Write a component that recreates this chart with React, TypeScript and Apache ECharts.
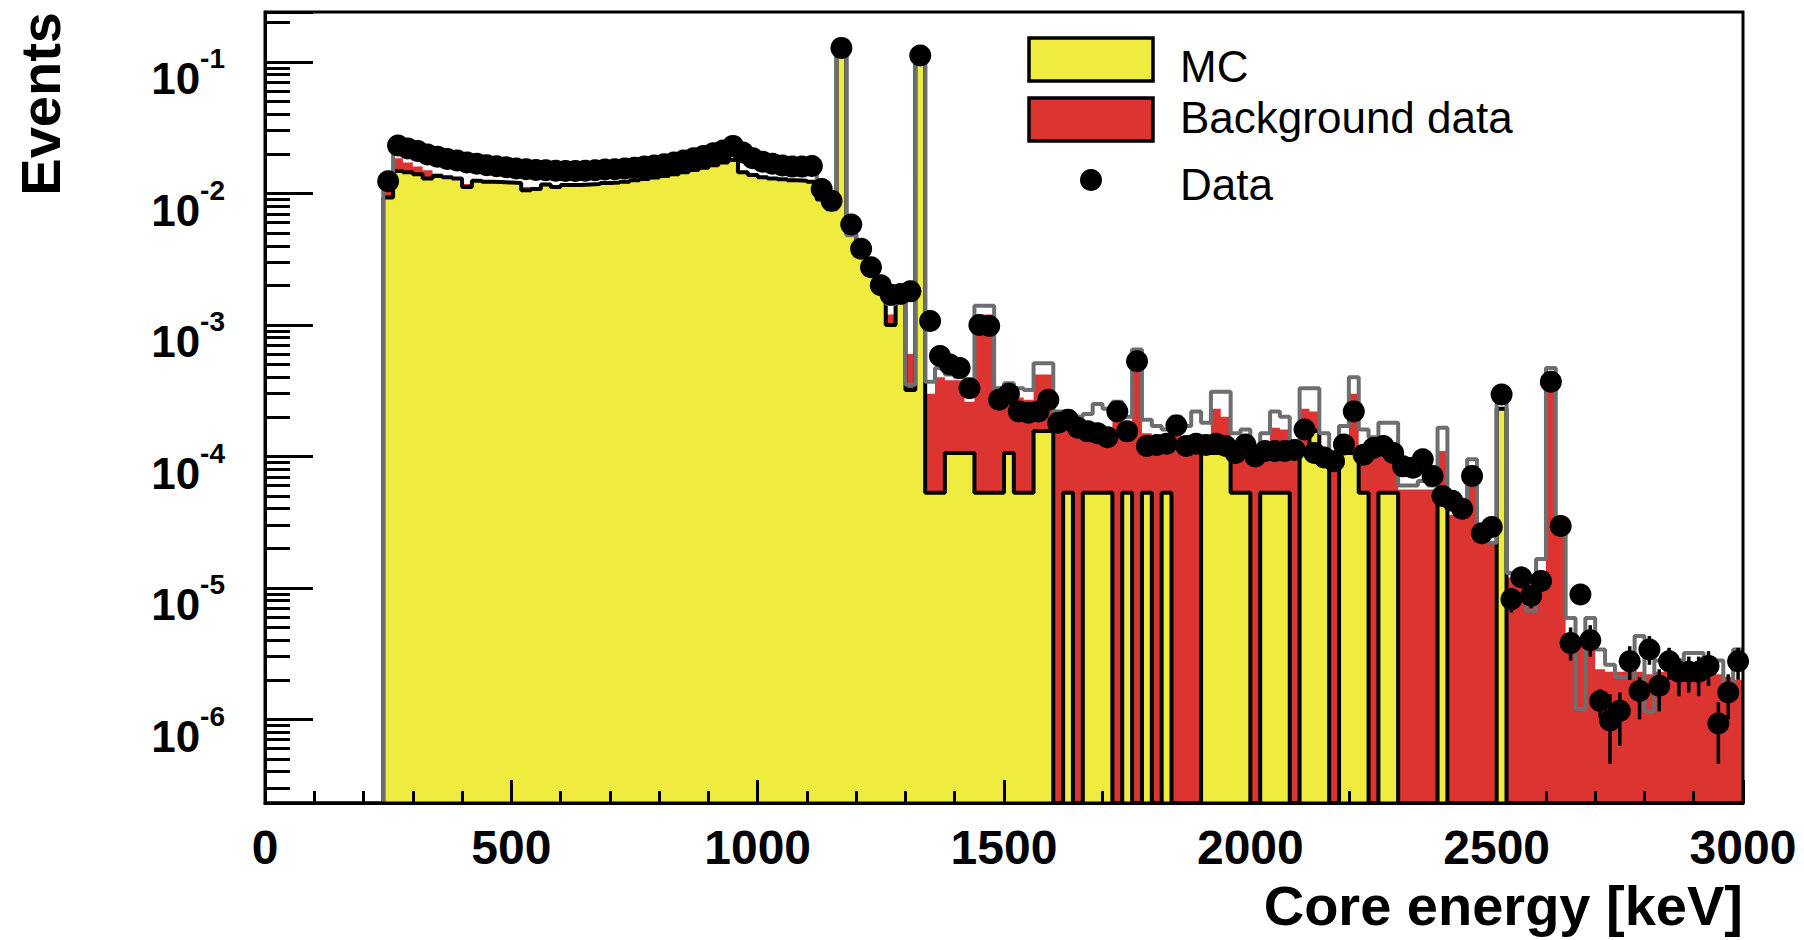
import React, { useEffect, useRef } from 'react';
import * as echarts from 'echarts';

// Histogram binning (keV)
const BIN_START = 240;
const BIN_WIDTH = 20;
const X_MIN = 0;
const X_MAX = 3000;
const X_INTERVAL = 500;
const Y_MIN = 2.31e-7;
const Y_MAX = 0.24;

// MC simulation (yellow), per 20 keV bin from 240 keV
const MC = [
  9.3e-3, 1.48e-2, 1.45e-2, 1.40e-2, 1.30e-2, 1.36e-2, 1.33e-2, 1.30e-2, 1.12e-2, 1.25e-2,
  1.23e-2, 1.22e-2, 1.21e-2, 1.20e-2, 1.06e-2, 1.08e-2, 1.17e-2, 1.12e-2, 1.16e-2, 1.16e-2,
  1.17e-2, 1.18e-2, 1.20e-2, 1.21e-2, 1.23e-2, 1.26e-2, 1.29e-2, 1.32e-2, 1.36e-2, 1.40e-2,
  1.45e-2, 1.51e-2, 1.57e-2, 1.64e-2, 1.72e-2, 1.80e-2, 1.45e-2, 1.38e-2, 1.33e-2, 1.30e-2,
  1.28e-2, 1.26e-2, 1.25e-2, 1.23e-2, 9.0e-3, 7.6e-3, 0.12, 4.9e-3, 3.4e-3, 2.4e-3,
  1.75e-3, 1.0e-3, 1.5e-3, 3.2e-4, 0.105, 5.3e-5, 5.3e-5, 1.06e-4, 1.06e-4, 1.06e-4,
  5.3e-5, 5.3e-5, 5.3e-5, 1.06e-4, 5.3e-5, 5.3e-5, 1.56e-4, 1.56e-4, 0, 5.3e-5,
  0, 5.3e-5, 5.3e-5, 5.3e-5, 0, 5.3e-5, 0, 5.3e-5, 0, 5.3e-5,
  0, 0, 0, 1.06e-4, 1.06e-4, 1.06e-4, 5.3e-5, 5.3e-5, 0, 5.3e-5,
  5.3e-5, 5.3e-5, 0, 1.06e-4, 1.56e-4, 1.06e-4, 0, 1.06e-4, 1.06e-4, 5.3e-5,
  0, 5.3e-5, 5.3e-5, 0, 0, 0, 0, 5.3e-5, 0, 0,
  0, 0, 0, 2.3e-4, 0, 0, 0, 0, 0, 0,
  0, 0, 0, 0, 0, 0, 0, 0, 0, 0,
  0, 0, 0, 0, 0, 0, 0, 0,
];

// Background data (red)
const BACKGROUND = [
  1.04e-2, 1.85e-2, 1.72e-2, 1.60e-2, 1.50e-2, 1.42e-2, 1.35e-2, 1.20e-2, 1.18e-2, 1.15e-2,
  1.13e-2, 1.12e-2, 1.10e-2, 1.10e-2, 1.12e-2, 1.10e-2, 1.08e-2, 1.14e-2, 1.10e-2, 1.08e-2,
  1.08e-2, 1.07e-2, 1.07e-2, 1.08e-2, 1.08e-2, 1.10e-2, 1.12e-2, 1.15e-2, 1.18e-2, 1.20e-2,
  1.25e-2, 1.30e-2, 1.35e-2, 1.40e-2, 1.45e-2, 1.50e-2, 1.30e-2, 1.25e-2, 1.20e-2, 1.18e-2,
  1.15e-2, 1.13e-2, 1.12e-2, 1.10e-2, 8.6e-3, 7.0e-3, 5.0e-3, 4.5e-3, 3.2e-3, 2.2e-3,
  1.6e-3, 1.2e-3, 1.3e-3, 6.0e-4, 1.5e-4, 3.0e-4, 4.0e-4, 3.8e-4, 3.8e-4, 2.6e-4,
  1.2e-3, 1.2e-3, 2.8e-4, 3.0e-4, 2.8e-4, 2.7e-4, 4.2e-4, 4.2e-4, 1.9e-4, 1.9e-4,
  1.8e-4, 1.6e-4, 1.5e-4, 1.45e-4, 2.0e-4, 1.5e-4, 5.0e-4, 1.5e-4, 1.2e-4, 1.1e-4,
  1.6e-4, 1.4e-4, 1.3e-4, 1.2e-4, 2.3e-4, 2.0e-4, 1.0e-4, 1.2e-4, 1.0e-4, 1.1e-4,
  1.65e-4, 1.6e-4, 1.1e-4, 2.3e-4, 2.2e-4, 1.1e-4, 1.0e-4, 1.2e-4, 3.0e-4, 1.1e-4,
  1.2e-4, 1.0e-4, 1.0e-4, 5.6e-5, 5.6e-5, 5.6e-5, 5.6e-5, 1.1e-4, 3.6e-5, 3.5e-5,
  7.3e-5, 2.2e-5, 2.2e-5, 1.5e-5, 1.2e-5, 1.1e-5, 1.0e-5, 1.2e-5, 3.2e-4, 3.0e-5,
  4.5e-6, 4.0e-6, 3.5e-6, 2.4e-6, 2.3e-6, 2.3e-6, 2.4e-6, 2.3e-6, 2.2e-6, 2.3e-6,
  2.4e-6, 2.3e-6, 2.3e-6, 2.2e-6, 2.3e-6, 2.2e-6, 2.1e-6, 2.0e-6,
];

// Summed prediction (grey outline)
const TOTAL = [
  1.2e-2, 2.05e-2, 1.95e-2, 1.85e-2, 1.75e-2, 1.68e-2, 1.62e-2, 1.58e-2, 1.52e-2, 1.50e-2,
  1.47e-2, 1.45e-2, 1.43e-2, 1.41e-2, 1.35e-2, 1.36e-2, 1.37e-2, 1.35e-2, 1.36e-2, 1.36e-2,
  1.37e-2, 1.38e-2, 1.40e-2, 1.41e-2, 1.43e-2, 1.45e-2, 1.48e-2, 1.52e-2, 1.55e-2, 1.60e-2,
  1.65e-2, 1.72e-2, 1.80e-2, 1.88e-2, 1.98e-2, 2.10e-2, 1.80e-2, 1.68e-2, 1.60e-2, 1.55e-2,
  1.50e-2, 1.48e-2, 1.47e-2, 1.47e-2, 1.0e-2, 8.0e-3, 0.13, 4.8e-3, 3.5e-3, 2.5e-3,
  1.8e-3, 1.45e-3, 1.5e-3, 3.5e-4, 0.112, 3.7e-4, 4.7e-4, 4.2e-4, 4.0e-4, 2.9e-4,
  1.4e-3, 1.4e-3, 3.3e-4, 3.6e-4, 3.3e-4, 3.2e-4, 5.1e-4, 5.1e-4, 2.2e-4, 2.2e-4,
  2.0e-4, 2.1e-4, 2.5e-4, 2.3e-4, 2.6e-4, 2.0e-4, 6.5e-4, 1.9e-4, 1.7e-4, 1.6e-4,
  2.0e-4, 1.7e-4, 2.2e-4, 1.8e-4, 3.1e-4, 3.1e-4, 1.5e-4, 1.6e-4, 1.1e-4, 1.5e-4,
  2.2e-4, 2.0e-4, 1.3e-4, 3.3e-4, 3.3e-4, 1.5e-4, 1.0e-4, 1.7e-4, 4.0e-4, 1.6e-4,
  1.4e-4, 1.8e-4, 1.8e-4, 6.0e-5, 6.0e-5, 6.5e-5, 6.0e-5, 1.65e-4, 4.0e-5, 4.0e-5,
  9.5e-5, 2.4e-5, 2.2e-5, 3.1e-4, 1.3e-5, 1.2e-5, 6.7e-6, 1.66e-5, 4.7e-4, 3.2e-5,
  5.9e-6, 1.2e-6, 5.9e-6, 3.4e-6, 2.6e-6, 2.1e-6, 2.1e-6, 4.3e-6, 1.15e-6, 2.8e-6,
  2.8e-6, 2.8e-6, 3.2e-6, 3.2e-6, 2.8e-6, 2.8e-6, 1.7e-6, 3.4e-6,
];

// Measured data points (black), bin centres
const DATA = [
  1.24e-2, 2.32e-2, 2.2e-2, 2.1e-2, 1.98e-2, 1.9e-2, 1.83e-2, 1.78e-2, 1.72e-2, 1.68e-2,
  1.64e-2, 1.61e-2, 1.58e-2, 1.55e-2, 1.53e-2, 1.51e-2, 1.5e-2, 1.49e-2, 1.48e-2, 1.48e-2,
  1.49e-2, 1.5e-2, 1.52e-2, 1.53e-2, 1.55e-2, 1.57e-2, 1.6e-2, 1.63e-2, 1.67e-2, 1.72e-2,
  1.78e-2, 1.85e-2, 1.93e-2, 2.02e-2, 2.12e-2, 2.3e-2, 2.05e-2, 1.85e-2, 1.74e-2, 1.68e-2,
  1.63e-2, 1.6e-2, 1.6e-2, 1.62e-2, 1.08e-2, 8.8e-3, 0.128, 5.8e-3, 3.8e-3, 2.75e-3,
  2.0e-3, 1.7e-3, 1.72e-3, 1.8e-3, 0.112, 1.07e-3, 5.8e-4, 5.0e-4, 4.7e-4, 3.3e-4,
  1.0e-3, 9.8e-4, 2.7e-4, 3.0e-4, 2.2e-4, 2.15e-4, 2.2e-4, 2.7e-4, 1.8e-4, 1.9e-4,
  1.65e-4, 1.55e-4, 1.5e-4, 1.4e-4, 2.2e-4, 1.55e-4, 5.3e-4, 1.2e-4, 1.22e-4, 1.25e-4,
  1.72e-4, 1.2e-4, 1.25e-4, 1.22e-4, 1.25e-4, 1.2e-4, 1.06e-4, 1.23e-4, 1.0e-4, 1.1e-4,
  1.1e-4, 1.1e-4, 1.12e-4, 1.6e-4, 1.06e-4, 9.8e-5, 9.2e-5, 1.23e-4, 2.2e-4, 1.03e-4,
  1.16e-4, 1.2e-4, 1.06e-4, 8.4e-5, 8.2e-5, 9.5e-5, 7.1e-5, 5.0e-5, 4.6e-5, 4.0e-5,
  7.1e-5, 2.6e-5, 2.9e-5, 2.96e-4, 8.2e-6, 1.2e-5, 8.7e-6, 1.13e-5, 3.7e-4, 2.95e-5,
  3.8e-6, 8.9e-6, 4.0e-6, 1.38e-6, 9.8e-7, 1.16e-6, 2.77e-6, 1.64e-6, 3.4e-6, 1.8e-6,
  2.77e-6, 2.3e-6, 2.3e-6, 2.3e-6, 2.55e-6, 9.3e-7, 1.6e-6, 2.77e-6,
];

// Error bars of the high-energy data points (first bin index = ERR_START)
const ERR_START = 114;
const ERR_LOW = [
  6.5e-6, 1.0e-5, 7.0e-6, 9.3e-6, 3.5e-4, 2.6e-5, 2.8e-6, 7.5e-6, 3.0e-6, 1.03e-6,
  4.6e-7, 6.3e-7, 2.0e-6, 1.0e-6, 2.6e-6, 1.15e-6, 2.0e-6, 1.5e-6, 1.6e-6, 1.5e-6,
  1.8e-6, 4.6e-7, 1.0e-6, 2.0e-6,
];
const ERR_HIGH = [
  1.0e-5, 1.45e-5, 1.05e-5, 1.35e-5, 3.9e-4, 3.3e-5, 5.0e-6, 1.05e-5, 5.2e-6, 1.7e-6,
  1.55e-6, 1.6e-6, 3.6e-6, 2.1e-6, 4.3e-6, 2.4e-6, 3.5e-6, 2.9e-6, 3.0e-6, 3.0e-6,
  3.3e-6, 1.35e-6, 2.2e-6, 3.5e-6,
];

const LEGEND_LABELS = ['MC', 'Background data', 'Data'];
const X_TITLE = 'Core energy [keV]';
const Y_TITLE = 'Events';

const FONT = '"Liberation Sans", Arial, Helvetica, sans-serif';
const YELLOW = '#efeb3f';
const RED = '#dc3430';
const GRAY = '#6c6e70';

function stepData(values: number[]) {
  const pts: number[][] = [[X_MIN, Y_MIN]];
  values.forEach((v, i) => {
    pts.push([BIN_START + i * BIN_WIDTH, v > 0 ? v : Y_MIN]);
  });
  const last = values[values.length - 1];
  pts.push([BIN_START + values.length * BIN_WIDTH, last > 0 ? last : Y_MIN]);
  return pts;
}

function binCenter(i: number) {
  return BIN_START + (i + 0.5) * BIN_WIDTH;
}

export default function App() {
  const ref = useRef<HTMLDivElement>(null);

  useEffect(() => {
    if (!ref.current) return;
    const chart = echarts.init(ref.current, null, { renderer: 'svg' });

    const scatterData = DATA.map((v, i) => [binCenter(i), v]).filter((p) => p[1] > 0);
    const errData = ERR_LOW.map((lo, j) => [binCenter(ERR_START + j), lo, ERR_HIGH[j]]);

    const tickStyle = { color: '#000', width: 3 };

    const option: any = {
      animation: false,
      backgroundColor: '#fff',
      grid: {
        left: 265,
        right: 61,
        top: 12,
        bottom: 137,
        show: true,
        borderColor: '#000',
        borderWidth: 3,
        backgroundColor: 'transparent',
        containLabel: false,
        outerBoundsMode: 'none',
        z: 10,
      },
      xAxis: {
        type: 'value',
        min: X_MIN,
        max: X_MAX,
        interval: X_INTERVAL,
        z: 10,
        axisLine: { show: true, onZero: false, lineStyle: tickStyle },
        axisTick: { show: true, inside: true, length: 23, lineStyle: tickStyle },
        minorTick: { show: true, splitNumber: 5, length: 12, lineStyle: tickStyle },
        splitLine: { show: false },
        axisLabel: {
          margin: 20,
          fontSize: 48,
          fontWeight: 'bold',
          fontFamily: FONT,
          color: '#000',
          formatter: (v: number) => String(Math.round(v)),
        },
      },
      yAxis: {
        type: 'log',
        logBase: 10,
        min: Y_MIN,
        max: Y_MAX,
        z: 10,
        axisLine: { show: true, lineStyle: tickStyle },
        axisTick: { show: true, inside: true, length: 48, lineStyle: tickStyle },
        minorTick: { show: true, splitNumber: 9, length: 25, lineStyle: tickStyle },
        splitLine: { show: false },
        axisLabel: {
          margin: 40,
          padding: [22, 0, 0, 0],
          formatter: (v: number) => {
            const e = Math.log10(v);
            const r = Math.round(e);
            if (Math.abs(e - r) > 1e-6) return '';
            return `{b|10}{s|${r}}`;
          },
          rich: {
            b: {
              fontSize: 44,
              fontWeight: 'bold',
              fontFamily: FONT,
              color: '#000',
              lineHeight: 56,
              verticalAlign: 'bottom',
            },
            s: {
              fontSize: 28,
              fontWeight: 'bold',
              fontFamily: FONT,
              color: '#000',
              lineHeight: 28,
              verticalAlign: 'top',
            },
          },
        },
      },
      series: [
        {
          name: 'Background data',
          type: 'line',
          step: 'end',
          data: stepData(BACKGROUND),
          symbol: 'none',
          lineStyle: { width: 0, opacity: 0 },
          areaStyle: { color: RED, opacity: 1, origin: 'start' },
          z: 2,
          silent: true,
        },
        {
          name: 'MC',
          type: 'line',
          step: 'end',
          data: stepData(MC),
          symbol: 'none',
          lineStyle: { color: '#000', width: 4 },
          areaStyle: { color: YELLOW, opacity: 1, origin: 'start' },
          z: 3,
          silent: true,
        },
        {
          name: 'Total',
          type: 'line',
          step: 'end',
          data: stepData(TOTAL),
          symbol: 'none',
          lineStyle: { color: GRAY, width: 4 },
          z: 4,
          silent: true,
        },
        {
          name: 'Data errors',
          type: 'custom',
          data: errData,
          encode: { x: 0, y: [1, 2] },
          z: 5,
          silent: true,
          renderItem: (params: any, api: any) => {
            const x = api.value(0);
            const p1 = api.coord([x, api.value(1)]);
            const p2 = api.coord([x, api.value(2)]);
            return {
              type: 'line',
              shape: { x1: p1[0], y1: p1[1], x2: p2[0], y2: p2[1] },
              style: { stroke: '#000', lineWidth: 3.5 },
            };
          },
        },
        {
          name: 'Data',
          type: 'scatter',
          data: scatterData,
          symbol: 'circle',
          symbolSize: 22,
          itemStyle: { color: '#000', opacity: 1 },
          clip: false,
          z: 6,
          silent: true,
        },
      ],
      graphic: [
        {
          type: 'text',
          x: 40,
          y: 12,
          rotation: Math.PI / 2,
          z: 20,
          style: {
            text: Y_TITLE,
            align: 'right',
            verticalAlign: 'middle',
            fontSize: 56,
            fontWeight: 'bold',
            fontFamily: FONT,
            fill: '#000',
          },
        },
        {
          type: 'text',
          x: 1743,
          y: 905,
          z: 20,
          style: {
            text: X_TITLE,
            align: 'right',
            verticalAlign: 'middle',
            fontSize: 56,
            fontWeight: 'bold',
            fontFamily: FONT,
            fill: '#000',
          },
        },
        {
          type: 'rect',
          z: 20,
          shape: { x: 1029, y: 38, width: 124, height: 43 },
          style: { fill: YELLOW, stroke: '#000', lineWidth: 3.5 },
        },
        {
          type: 'rect',
          z: 20,
          shape: { x: 1029, y: 98, width: 124, height: 43 },
          style: { fill: RED, stroke: '#000', lineWidth: 3.5 },
        },
        {
          type: 'circle',
          z: 20,
          shape: { cx: 1091, cy: 180, r: 11 },
          style: { fill: '#000' },
        },
        ...LEGEND_LABELS.map((t, i) => ({
          type: 'text',
          x: 1180,
          y: [66, 117, 184][i],
          z: 20,
          style: {
            text: t,
            align: 'left',
            verticalAlign: 'middle',
            fontSize: 44,
            fontFamily: FONT,
            fill: '#000',
          },
        })),
      ],
    };

    chart.setOption(option);
    return () => chart.dispose();
  }, []);

  return (
    <div
      ref={ref}
      style={{ position: 'fixed', left: 0, top: 0, width: 1804, height: 940, background: '#fff' }}
    />
  );
}
